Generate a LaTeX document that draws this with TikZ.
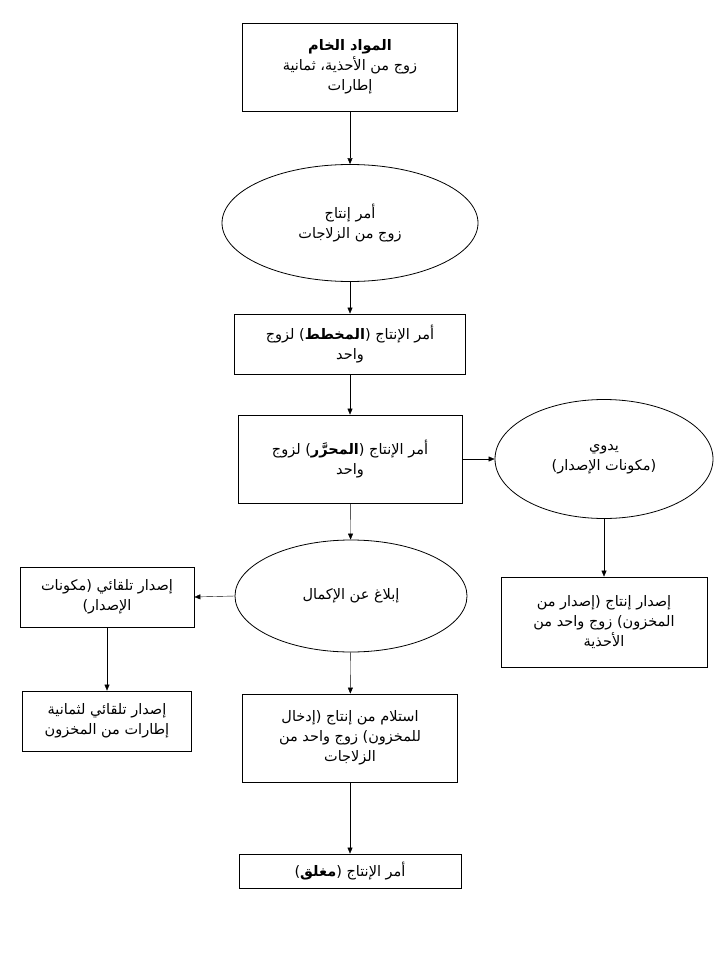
\documentclass[tikz,border=0pt]{standalone}
\usepackage{fontspec}
\newfontfamily\arfont[Script=Arabic]{DejaVu Sans}
\usetikzlibrary{shapes.geometric,arrows.meta}
\TeXXeTstate=1
\newcommand{\ar}[1]{{\beginR #1\endR}}
\begin{document}
\begin{tikzpicture}[x=1pt,y=-1pt,
  base/.style={draw,thick,font=\arfont\fontsize{14.5}{20}\selectfont,align=center,inner sep=1pt},
  box/.style={base,rectangle,minimum width=#1},
  ell/.style={base,ellipse},
  arr/.style={-{Triangle[length=6pt,width=5pt]},thin}]
\useasboundingbox (0,0) rectangle (720,960);
\node[box=215,minimum height=88] (b1) at (350,67) {\ar{\textbf{المواد الخام}}\\\ar{زوج من الأحذية، ثمانية}\\\ar{إطارات}};
\node[ell,minimum width=256,minimum height=117] (e1) at (350,223) {\ar{أمر إنتاج}\\\ar{زوج من الزلاجات}};
\node[box=231,minimum height=60] (b3) at (350,344) {\ar{أمر الإنتاج (\textbf{المخطط}) لزوج}\\\ar{واحد}};
\node[box=224,minimum height=88] (b4) at (350,459) {\ar{أمر الإنتاج (\textbf{المحرَّر}) لزوج}\\\ar{واحد}};
\node[ell,minimum width=218,minimum height=119] (e2) at (604,459) {\ar{يدوي}\\\ar{(مكونات الإصدار)}};
\node[box=206,minimum height=90] (b6) at (604,622) {\ar{إصدار إنتاج (إصدار من}\\\ar{المخزون) زوج واحد من}\\\ar{الأحذية}};
\node[ell,minimum width=232,minimum height=112] (e3) at (351,596) {\ar{إبلاغ عن الإكمال}};
\node[box=174,minimum height=60] (b8) at (107,597) {\ar{إصدار تلقائي (مكونات}\\\ar{الإصدار)}};
\node[box=169,minimum height=60] (b9) at (107,721) {\ar{إصدار تلقائي لثمانية}\\\ar{إطارات من المخزون}};
\node[box=215,minimum height=88] (b10) at (350,738) {\ar{استلام من إنتاج (إدخال}\\\ar{للمخزون) زوج واحد من}\\\ar{الزلاجات}};
\node[box=222,minimum height=34] (b11) at (350,871) {\ar{أمر الإنتاج (\textbf{مغلق})}};
\draw[arr] (b1) -- (e1);
\draw[arr] (e1) -- (b3);
\draw[arr] (b3) -- (b4);
\draw[arr] (b4.east) -- (e2.west);
\draw[arr] (e2) -- (b6);
\draw[arr] (b4) -- (e3);
\draw[arr] (e3.west) -- (b8.east);
\draw[arr] (b8) -- (b9);
\draw[arr] (e3) -- (b10);
\draw[arr] (b10) -- (b11);
\end{tikzpicture}
\end{document}
